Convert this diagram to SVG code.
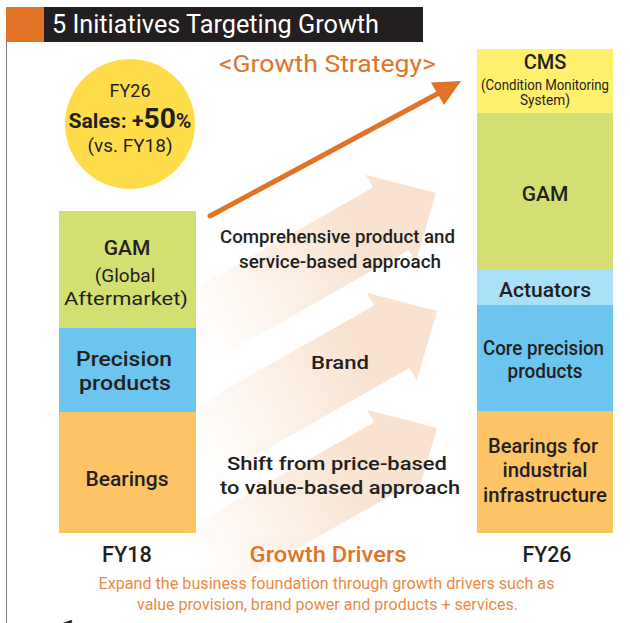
<svg xmlns="http://www.w3.org/2000/svg" width="630" height="623" viewBox="0 0 630 623">
<style>
text{font-family:Roboto,"Liberation Sans","DejaVu Sans",sans-serif;fill:#231f20;text-anchor:middle}
.m{font-weight:500}
.b{font-weight:700}
.or{fill:#e07428}
.lo{fill:#ea8a45}
.w{fill:#ffffff;text-anchor:start}
</style>
<defs>
<linearGradient id="fade" gradientUnits="userSpaceOnUse" x1="-280" y1="0" x2="-52" y2="0">
<stop offset="0" stop-color="#f9e2cf" stop-opacity="0"/>
<stop offset="0.4" stop-color="#f9e2cf" stop-opacity="0.45"/>
<stop offset="0.85" stop-color="#f9e2cf" stop-opacity="1"/>
</linearGradient>
<path id="bigArrow" d="M0,0 L-52,-50.5 L-52,-36 L-280,-36 L-280,36 L-52,36 L-52,50.5 Z" fill="url(#fade)"/>
</defs>
<rect width="630" height="623" fill="#ffffff"/>
<line x1="6.5" y1="7" x2="6.5" y2="623" stroke="#7a7a7a" stroke-width="1"/>
<g id="header">
<rect x="6" y="7" width="38" height="35" fill="#e07325"/>
<rect x="44" y="7" width="379" height="35" fill="#231f20"/>
<text class="w" x="52" y="33" font-size="25" textLength="327" lengthAdjust="spacingAndGlyphs">5 Initiatives Targeting Growth</text>
</g>
<text class="or" x="327.5" y="72" font-size="24" textLength="217" lengthAdjust="spacingAndGlyphs">&lt;Growth Strategy&gt;</text>
<g id="connectors">
<use href="#bigArrow" transform="translate(436,193) rotate(-29.6)"/>
<use href="#bigArrow" transform="translate(437,311) rotate(-29.6)"/>
<use href="#bigArrow" transform="translate(437,428) rotate(-29.6)"/>
<line x1="210" y1="216" x2="438" y2="93.5" stroke="#e07325" stroke-width="5" stroke-linecap="round"/>
<polygon points="461,81 431,82.5 444,105" fill="#e07325"/>
</g>
<g id="target-circle">
<circle cx="130" cy="124" r="65" fill="#ffdd4a"/>
<text x="130" y="97" font-size="18">FY26</text>
<text class="b" x="130" y="128" font-size="21" textLength="123" lengthAdjust="spacingAndGlyphs">Sales: +<tspan font-size="28">50</tspan>%</text>
<text x="130" y="152" font-size="18" textLength="85" lengthAdjust="spacingAndGlyphs">(vs. FY18)</text>
</g>
<g id="fy18-gam">
<rect x="59" y="211" width="137" height="117" fill="#d4df72"/>
<text class="m" x="127" y="255" font-size="21">GAM</text>
<text x="125" y="282" font-size="19">(Global</text>
<text x="126" y="305" font-size="19" textLength="124" lengthAdjust="spacingAndGlyphs">Aftermarket)</text>
</g>
<g id="fy18-precision">
<rect x="59" y="328" width="137" height="84" fill="#6cc5ee"/>
<text class="m" x="124" y="366" font-size="21" textLength="96" lengthAdjust="spacingAndGlyphs">Precision</text>
<text class="m" x="125" y="390" font-size="21" textLength="92" lengthAdjust="spacingAndGlyphs">products</text>
</g>
<g id="fy18-bearings">
<rect x="59" y="412" width="137" height="121" fill="#fdc466"/>
<text class="m" x="127" y="486" font-size="21" textLength="83" lengthAdjust="spacingAndGlyphs">Bearings</text>
</g>
<g id="fy26-cms">
<rect x="477" y="49" width="136" height="64" fill="#fff06e"/>
<text class="m" x="545" y="69" font-size="20">CMS</text>
<text x="545" y="90" font-size="14" textLength="128" lengthAdjust="spacingAndGlyphs">(Condition Monitoring</text>
<text x="545" y="105" font-size="14" textLength="50" lengthAdjust="spacingAndGlyphs">System)</text>
</g>
<g id="fy26-gam">
<rect x="477" y="113" width="136" height="157" fill="#d4df72"/>
<text class="m" x="545" y="201" font-size="21">GAM</text>
</g>
<g id="fy26-actuators">
<rect x="477" y="270" width="136" height="35" fill="#aadff8"/>
<text class="m" x="545" y="297" font-size="21" textLength="92" lengthAdjust="spacingAndGlyphs">Actuators</text>
</g>
<g id="fy26-core-precision">
<rect x="477" y="305" width="136" height="106" fill="#6cc5ee"/>
<text class="m" x="543.5" y="355" font-size="20" textLength="121" lengthAdjust="spacingAndGlyphs">Core precision</text>
<text class="m" x="545" y="378" font-size="20" textLength="75" lengthAdjust="spacingAndGlyphs">products</text>
</g>
<g id="fy26-bearings">
<rect x="477" y="411" width="136" height="122" fill="#fdc466"/>
<text class="m" x="543" y="453" font-size="20" textLength="110" lengthAdjust="spacingAndGlyphs">Bearings for</text>
<text class="m" x="545" y="477" font-size="20" textLength="85" lengthAdjust="spacingAndGlyphs">industrial</text>
<text class="m" x="545" y="502" font-size="20" textLength="124" lengthAdjust="spacingAndGlyphs">infrastructure</text>
</g>
<g id="driver-products-services">
<text class="m" x="337.5" y="243" font-size="19" textLength="235" lengthAdjust="spacingAndGlyphs">Comprehensive product and</text>
<text class="m" x="340" y="268" font-size="19" textLength="202" lengthAdjust="spacingAndGlyphs">service-based approach</text>
</g>
<g id="driver-brand">
<text class="m" x="340" y="369" font-size="19" textLength="58" lengthAdjust="spacingAndGlyphs">Brand</text>
</g>
<g id="driver-value">
<text class="m" x="337" y="470" font-size="19" textLength="220" lengthAdjust="spacingAndGlyphs">Shift from price-based</text>
<text class="m" x="340" y="494" font-size="19" textLength="240" lengthAdjust="spacingAndGlyphs">to value-based approach</text>
</g>
<text class="m" x="127" y="562" font-size="22" textLength="50" lengthAdjust="spacingAndGlyphs">FY18</text>
<text class="m or" x="328" y="562" font-size="22" textLength="157" lengthAdjust="spacingAndGlyphs">Growth Drivers</text>
<text class="m" x="547" y="562" font-size="22" textLength="49" lengthAdjust="spacingAndGlyphs">FY26</text>
<text class="lo" x="326.5" y="589" font-size="16" textLength="456" lengthAdjust="spacingAndGlyphs">Expand the business foundation through growth drivers such as</text>
<text class="lo" x="327.5" y="610" font-size="16" textLength="381" lengthAdjust="spacingAndGlyphs">value provision, brand power and products + services.</text>
<text class="b" x="67" y="652" font-size="44">1</text>
</svg>
